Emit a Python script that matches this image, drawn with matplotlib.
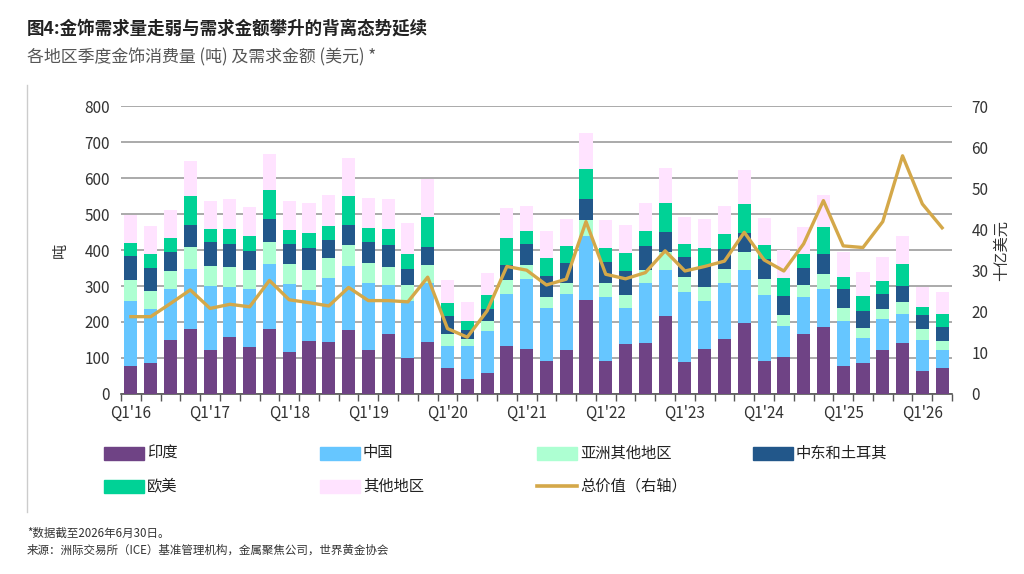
import matplotlib
matplotlib.use("Agg")
import matplotlib.pyplot as plt
from matplotlib.patches import Rectangle
from matplotlib.lines import Line2D
import numpy as np

plt.rcParams['font.family'] = ['Noto Sans CJK SC', 'DejaVu Sans']

# 2016Q1 - 2026Q2, tonnes
india = [78, 87, 150, 180, 121, 158, 131, 180, 117, 147, 145, 178,
         123, 167, 99, 145, 71, 41, 58, 134, 125, 92, 123, 261,
         92, 138, 143, 218, 90, 126, 154, 196, 93, 104, 168, 187,
         79, 86, 122, 143, 64, 72]
china = [181, 148, 142, 167, 179, 140, 161, 182, 188, 143, 178, 178,
         184, 136, 158, 162, 62, 91, 118, 143, 194, 146, 154, 178,
         177, 102, 164, 126, 193, 131, 153, 148, 183, 86, 102, 105,
         124, 70, 85, 80, 86, 50]
asia = [59, 51, 50, 60, 56, 54, 52, 60, 56, 54, 56, 58,
        57, 50, 45, 50, 35, 22, 27, 40, 40, 32, 32, 44,
        40, 36, 37, 50, 43, 39, 41, 50, 43, 30, 33, 40,
        35, 26, 28, 33, 30, 25]
mideast = [66, 64, 53, 62, 66, 66, 54, 64, 57, 61, 49, 55,
           59, 62, 46, 52, 50, 23, 33, 41, 57, 59, 56, 58,
           59, 66, 67, 55, 55, 60, 55, 52, 56, 53, 47, 56,
           54, 49, 42, 44, 39, 40]
euus = [36, 40, 39, 80, 36, 41, 41, 81, 37, 42, 40, 81,
        39, 43, 42, 82, 35, 26, 38, 76, 37, 50, 46, 84,
        38, 51, 43, 82, 37, 50, 41, 81, 38, 49, 40, 75,
        34, 42, 38, 61, 22, 35]
other = [76, 78, 78, 97, 79, 82, 80, 101, 81, 84, 84, 105,
         82, 85, 86, 105, 65, 52, 63, 82, 70, 75, 74, 101,
         76, 76, 76, 97, 73, 81, 78, 95, 75, 78, 75, 89,
         68, 67, 66, 78, 56, 60]
value = [18.8, 18.8, 22.0, 25.3, 20.8, 21.8, 21.2, 27.6, 22.9, 22.2, 21.4, 25.9,
         22.7, 22.7, 22.4, 28.4, 15.9, 13.8, 20.2, 31.0, 30.1, 26.5, 27.9, 41.9,
         29.1, 28.0, 29.5, 34.8, 29.9, 31.0, 32.3, 39.3, 32.6, 29.9, 36.5, 47.0,
         36.0, 35.6, 41.9, 57.9, 46.2, 40.4]
year_labels = ["Q1'16", "Q1'17", "Q1'18", "Q1'19", "Q1'20",
               "Q1'21", "Q1'22", "Q1'23", "Q1'24", "Q1'25", "Q1'26"]

names = ["印度", "中国", "亚洲其他地区", "中东和土耳其", "欧美", "其他地区"]
colors = ["#6F4385", "#66C6FF", "#ADFFD2", "#22578A", "#00D296", "#FFE3FF"]
line_color = "#D4A849"

fig = plt.figure(figsize=(10.24, 5.74), dpi=100)
ax = fig.add_axes([0.1182, 0.3136, 0.8115, 0.5017])
ax2 = ax.twinx()

x = np.arange(len(india))
bottom = np.zeros(len(india))
for vals, c in zip([india, china, asia, mideast, euus, other], colors):
    ax.bar(x, vals, bottom=bottom, width=0.66, color=c, zorder=3)
    bottom += np.array(vals)

ax2.plot(x, value, color=line_color, lw=2.4, zorder=5)

ax.set_xlim(-0.5, len(india) - 0.5)
ax.set_ylim(0, 800)
ax2.set_ylim(0, 70)
ax.set_yticks(range(0, 801, 100))
ax2.set_yticks(range(0, 71, 10))
ax.grid(axis='y', color='#AAAAAA', lw=1.4, zorder=0)
ax.set_axisbelow(True)

ax.set_xticks(np.arange(0, len(india), 4))
ax.set_xticklabels(year_labels)
ax.set_xticks(np.arange(-0.5, len(india), 1), minor=True)
ax.tick_params(axis='x', which='major', length=0, labelsize=11, colors='#333333', pad=8)
ax.tick_params(axis='x', which='minor', length=5, color='#555555', width=1)
ax.tick_params(axis='y', length=0, labelsize=11, colors='#333333', pad=8)
ax2.tick_params(axis='y', length=0, labelsize=11, colors='#333333', pad=14)

for a in (ax, ax2):
    for s in ('top', 'left', 'right'):
        a.spines[s].set_visible(False)
ax.spines['bottom'].set_color('#555555')
ax.spines['bottom'].set_linewidth(1.2)
ax2.spines['bottom'].set_visible(False)

ax.set_ylabel("吨", fontsize=11, color='#333333', labelpad=11)
ax2.set_ylabel("十亿美元", fontsize=11, color='#333333', labelpad=3)

# titles
fig.text(27 / 1024, 1 - 28 / 574, "图4:金饰需求量走弱与需求金额攀升的背离态势延续",
         fontsize=12.6, fontweight='bold', color='#222222', va='center')
fig.text(27 / 1024, 1 - 57 / 574, "各地区季度金饰消费量 (吨) 及需求金额 (美元) *",
         fontsize=12.2, color='#555555', va='center')

# left rule
fig.add_artist(Line2D([27 / 1024, 27 / 1024], [1 - 85 / 574, 1 - 512 / 574],
                      color='#CCCCCC', lw=1))

# legend
col_x = [104, 320, 537, 753]
row_y = [453, 486]
items = list(zip(names, colors))
for i, (nm, c) in enumerate(items):
    cx = col_x[i % 4]
    cy = row_y[i // 4]
    fig.add_artist(Rectangle((cx / 1024, 1 - (cy + 6.5) / 574), 40 / 1024, 13 / 574,
                             color=c, transform=fig.transFigure))
    fig.text((cx + 43) / 1024, 1 - cy / 574, nm, fontsize=11, color='#222222', va='center')
cx, cy = col_x[2], row_y[1]
fig.add_artist(Line2D([cx / 1024, (cx + 40) / 1024], [1 - cy / 574, 1 - cy / 574],
                      color=line_color, lw=2.6))
fig.text((cx + 43) / 1024, 1 - cy / 574, "总价值（右轴）", fontsize=11, color='#222222', va='center')

# footnotes
fig.text(27 / 1024, 1 - 533 / 574, "*数据截至2026年6月30日。", fontsize=8.3, color='#333333', va='center')
fig.text(27 / 1024, 1 - 550 / 574, "来源：洲际交易所（ICE）基准管理机构，金属聚焦公司，世界黄金协会",
         fontsize=8.3, color='#333333', va='center')

fig.savefig("out.png", dpi=100)
